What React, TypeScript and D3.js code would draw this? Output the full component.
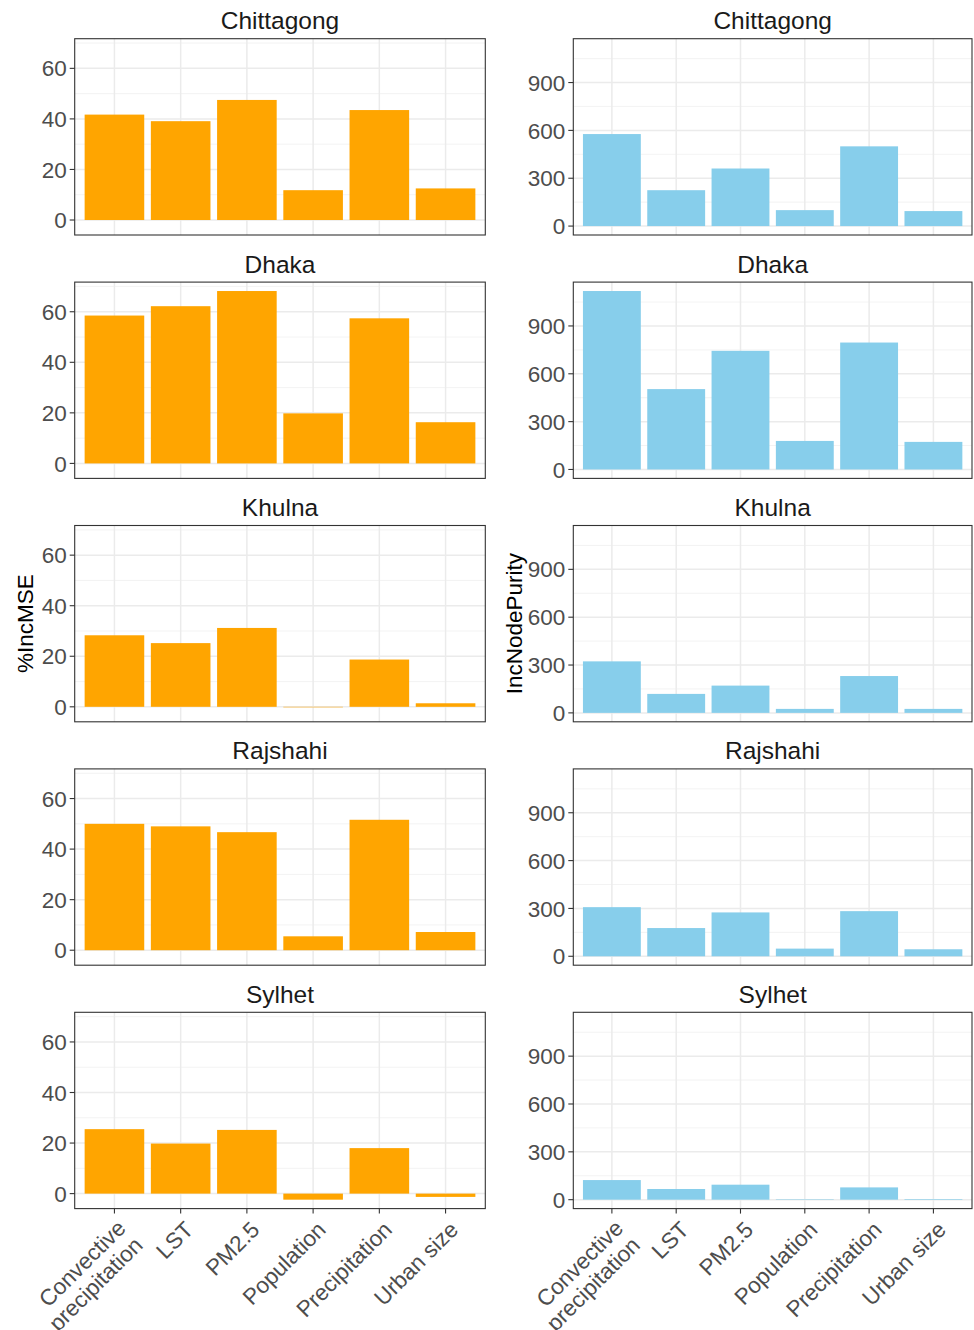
import React, { useEffect, useRef } from 'react'
import * as d3 from 'd3'

const variables = ['Convective\nprecipitation', 'LST', 'PM2.5', 'Population', 'Precipitation', 'Urban size']
const cities = ['Chittagong', 'Dhaka', 'Khulna', 'Rajshahi', 'Sylhet']

// %IncMSE per city, same order as variables
const mseChittagong = [41.7, 39.1, 47.5, 11.8, 43.5, 12.5]
const mseDhaka = [58.5, 62.2, 68.2, 19.8, 57.4, 16.3]
const mseKhulna = [28.3, 25.2, 31.2, -0.2, 18.7, 1.4]
const mseRajshahi = [50.0, 49.0, 46.7, 5.5, 51.6, 7.2]
const mseSylhet = [25.5, 19.8, 25.2, -2.4, 18.0, -1.3]

// IncNodePurity per city
const purityChittagong = [577, 225, 361, 100, 500, 94]
const purityDhaka = [1119, 504, 744, 179, 796, 173]
const purityKhulna = [323, 119, 171, 25, 231, 25]
const purityRajshahi = [308, 177, 275, 48, 283, 44]
const puritySylhet = [123, 67, 94, 3, 77, 4]

const mseTicks = [0, 20, 40, 60]
const mseMinor = [10, 30, 50, 70]
const purityTicks = [0, 300, 600, 900]
const purityMinor = [150, 450, 750, 1050]

const mseValues = [mseChittagong, mseDhaka, mseKhulna, mseRajshahi, mseSylhet]
const purityValues = [purityChittagong, purityDhaka, purityKhulna, purityRajshahi, puritySylhet]

const App: React.FC = () => {
    const chartRef = useRef<SVGSVGElement | null>(null)

    useEffect(() => {
        if (!chartRef.current) return
        const width = 974
        const height = 1330
        const svg = d3.select(chartRef.current)
        svg.selectAll('*').remove()
        svg.attr('width', width).attr('height', height).attr('viewBox', `0 0 ${width} ${height}`)

        const font = 'Liberation Sans, Arial, Helvetica, sans-serif'
        const rowTop = 38.7
        const rowStep = 243.4
        const panelH = 196.3

        const columns = [
            { x0: 74.7, x1: 485.3, values: mseValues, ticks: mseTicks, minor: mseMinor, fill: '#FFA500', title: '%IncMSE', titleX: 25 },
            { x0: 573.3, x1: 972, values: purityValues, ticks: purityTicks, minor: purityMinor, fill: '#87CEEB', title: 'IncNodePurity', titleX: 514 },
        ]

        columns.forEach(col => {
            const all = col.values.flat()
            const lo = Math.min(0, d3.min(all) as number)
            const hi = Math.max(0, d3.max(all) as number)
            const pad = (hi - lo) * 0.05

            const x = d3.scaleBand<string>()
                .domain(variables)
                .range([col.x0, col.x1])
                .paddingInner(0.1)
                .paddingOuter(0.15)

            cities.forEach((city, ci) => {
                const top = rowTop + ci * rowStep
                const bottom = top + panelH
                const y = d3.scaleLinear().domain([lo - pad, hi + pad]).range([bottom, top])
                const g = svg.append('g')

                // grid
                g.selectAll('.minor').data(col.minor).enter().append('line')
                    .attr('x1', col.x0).attr('x2', col.x1)
                    .attr('y1', d => y(d)).attr('y2', d => y(d))
                    .attr('stroke', '#f2f2f2').attr('stroke-width', 0.9)
                g.selectAll('.major').data(col.ticks).enter().append('line')
                    .attr('x1', col.x0).attr('x2', col.x1)
                    .attr('y1', d => y(d)).attr('y2', d => y(d))
                    .attr('stroke', '#ebebeb').attr('stroke-width', 1.5)
                g.selectAll('.vgrid').data(variables).enter().append('line')
                    .attr('x1', d => (x(d) as number) + x.bandwidth() / 2)
                    .attr('x2', d => (x(d) as number) + x.bandwidth() / 2)
                    .attr('y1', top).attr('y2', bottom)
                    .attr('stroke', '#ebebeb').attr('stroke-width', 1.5)

                // bars
                const vals = col.values[ci]
                g.selectAll('.bar').data(vals).enter().append('rect')
                    .attr('x', (d, i) => x(variables[i]) as number)
                    .attr('width', x.bandwidth())
                    .attr('y', d => y(Math.max(0, d)))
                    .attr('height', d => Math.abs(y(d) - y(0)))
                    .attr('fill', col.fill)

                // border
                g.append('rect')
                    .attr('x', col.x0).attr('y', top)
                    .attr('width', col.x1 - col.x0).attr('height', panelH)
                    .attr('fill', 'none').attr('stroke', '#333333').attr('stroke-width', 1.1)

                // y ticks
                const yt = g.selectAll('.yt').data(col.ticks).enter().append('g')
                    .attr('transform', d => `translate(${col.x0},${y(d)})`)
                yt.append('line').attr('x1', -5).attr('x2', 0).attr('stroke', '#333333').attr('stroke-width', 1.1)
                yt.append('text')
                    .attr('x', -8).attr('dy', '0.36em')
                    .attr('text-anchor', 'end')
                    .style('font-family', font).style('font-size', '22.5px').style('fill', '#4d4d4d')
                    .text(d => d)

                // strip title
                g.append('text')
                    .attr('x', (col.x0 + col.x1) / 2).attr('y', top - 9.5)
                    .attr('text-anchor', 'middle')
                    .style('font-family', font).style('font-size', '24.5px').style('fill', '#1a1a1a')
                    .text(city)

                // x axis only on the bottom row
                if (ci === cities.length - 1) {
                    const xt = g.selectAll('.xt').data(variables).enter().append('g')
                        .attr('transform', d => `translate(${(x(d) as number) + x.bandwidth() / 2},${bottom})`)
                    xt.append('line').attr('y1', 0).attr('y2', 5).attr('stroke', '#333333').attr('stroke-width', 1.1)
                    const label = xt.append('text')
                        .attr('transform', 'translate(2,9) rotate(-45)')
                        .attr('text-anchor', 'end')
                        .style('font-family', font).style('font-size', '22.5px').style('fill', '#4d4d4d')
                    label.each(function (d) {
                        const lines = d.split('\n')
                        const t = d3.select(this)
                        const first = lines.length > 1 ? 16 : 18
                        lines.forEach((ln, li) => {
                            t.append('tspan').attr('x', -1).attr('y', first + li * 24).text(ln)
                        })
                    })
                }
            })

            // axis title
            const midY = rowTop + (rowStep * (cities.length - 1) + panelH) / 2
            svg.append('text')
                .attr('transform', `translate(${col.titleX},${midY}) rotate(-90)`)
                .attr('text-anchor', 'middle')
                .attr('dy', '0.35em')
                .style('font-family', font).style('font-size', '22.5px').style('fill', 'black')
                .text(col.title)
        })
    }, [])

    return (
        <div style={{ position: 'absolute', left: 0, top: 0 }}>
            <svg ref={chartRef} style={{ display: 'block', background: 'white' }}></svg>
        </div>
    )
}

export default App
